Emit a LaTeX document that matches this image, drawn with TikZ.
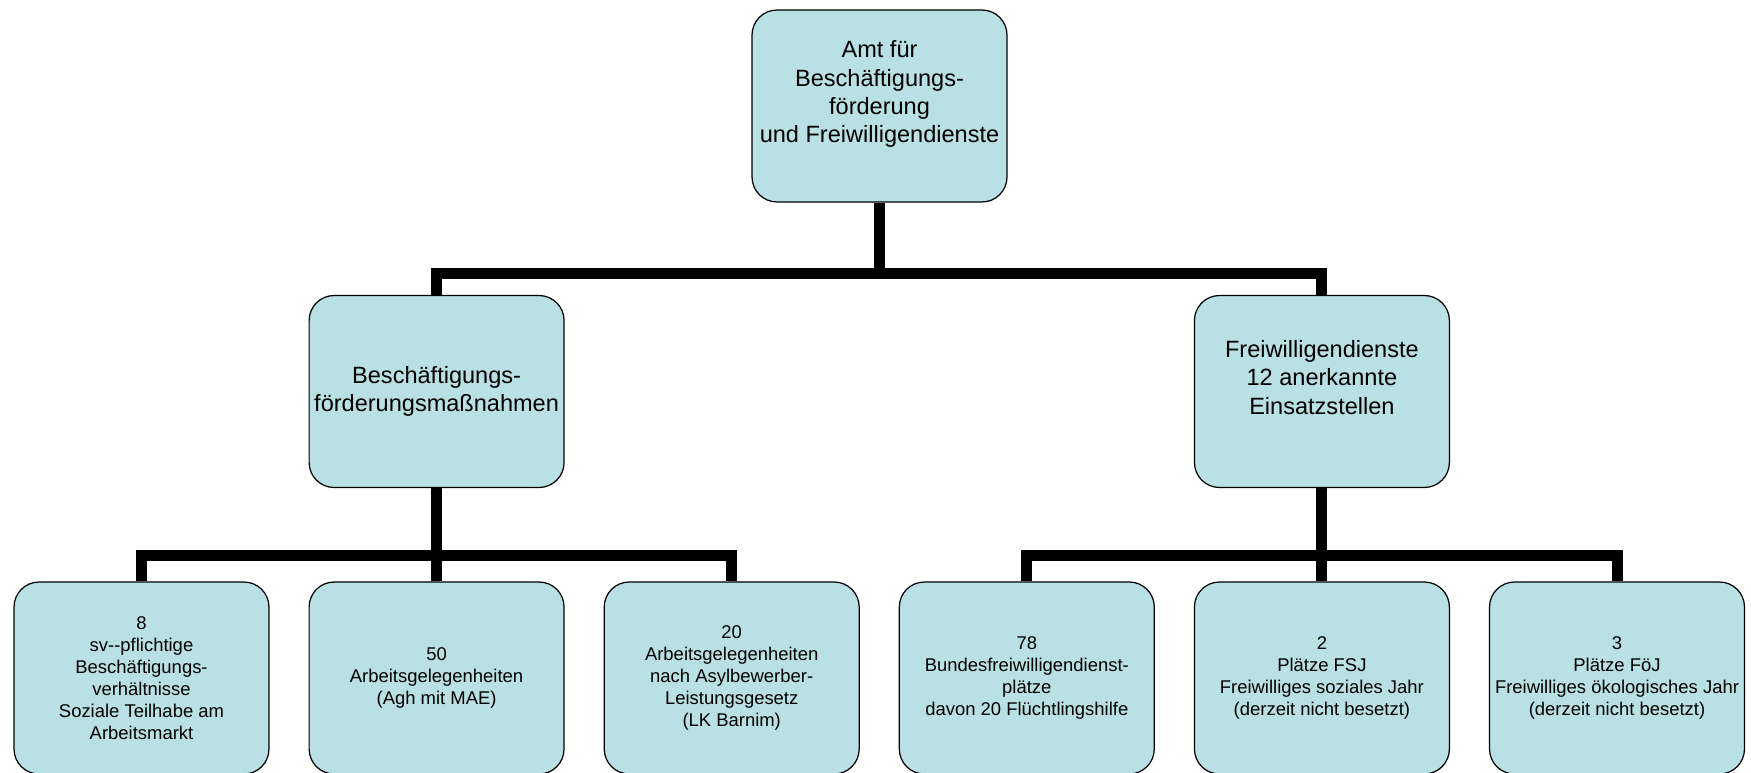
\documentclass[tikz,border=0pt]{standalone}
\usepackage{fontspec}
\setmainfont{Liberation Sans}
\definecolor{boxblue}{RGB}{185,224,228}
\begin{document}
\begin{tikzpicture}[x=0.02cm,y=-0.02cm,
  orgbox/.style={draw=black,line width=0.7pt,fill=boxblue,rounded corners=0.5cm,
    minimum width=5.1cm,minimum height=3.84cm,inner sep=0pt,align=center},
  bigtext/.style={font=\fontsize{13.4}{16.2}\selectfont},
  smalltext/.style={font=\fontsize{10.5}{12.5}\selectfont},
  link/.style={line width=0.22cm}]
\useasboundingbox (0,0) rectangle (1751,773);

\node[orgbox,bigtext] (amt) at (879.5,106) {Amt f\"ur\\Besch\"aftigungs-\\f\"orderung\\und Freiwilligendienste\\{}};

\node[orgbox,bigtext] (besch) at (436.6,391.5) {Besch\"aftigungs-\\f\"orderungsma\ss nahmen};
\node[orgbox,bigtext] (frei) at (1321.9,391.5) {Freiwilligendienste\\12 anerkannte\\Einsatzstellen\\{}};

\node[orgbox,smalltext] (sv) at (141.5,678) {8\\sv-{}-pflichtige\\Besch\"aftigungs-\\verh\"altnisse\\Soziale Teilhabe am\\Arbeitsmarkt};
\node[orgbox,smalltext] (agh) at (436.6,678) {50\\Arbeitsgelegenheiten\\(Agh mit MAE)};
\node[orgbox,smalltext] (asyl) at (731.7,678) {20\\Arbeitsgelegenheiten\\nach Asylbewerber-\\Leistungsgesetz\\(LK Barnim)};
\node[orgbox,smalltext] (bfd) at (1026.8,678) {78\\Bundesfreiwilligendienst-\\pl\"atze\\davon 20 Fl\"uchtlingshilfe};
\node[orgbox,smalltext] (fsj) at (1321.9,678) {2\\Pl\"atze FSJ\\Freiwilliges soziales Jahr\\(derzeit nicht besetzt)};
\node[orgbox,smalltext] (foej) at (1617,678) {3\\Pl\"atze F\"oJ\\Freiwilliges \"okologisches Jahr\\(derzeit nicht besetzt)};

\foreach \c in {besch,frei} {\draw[link] (amt.south) -- ++(0,71) -| (\c.north);}
\foreach \c in {sv,agh,asyl} {\draw[link] (besch.south) -- ++(0,67.5) -| (\c.north);}
\foreach \c in {bfd,fsj,foej} {\draw[link] (frei.south) -- ++(0,67.5) -| (\c.north);}
\end{tikzpicture}
\end{document}
